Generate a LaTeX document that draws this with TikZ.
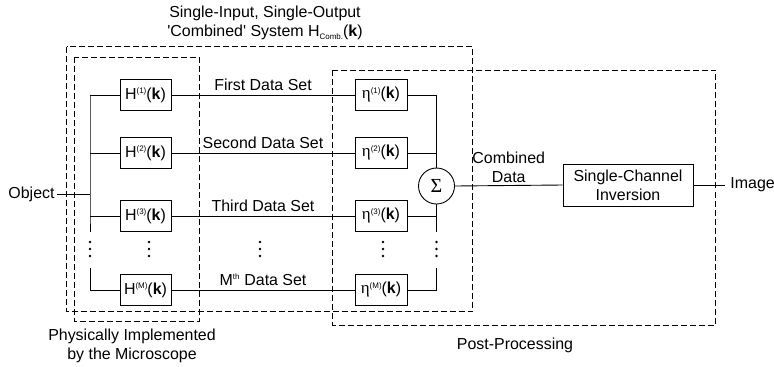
\documentclass[tikz,border=0pt]{standalone}
\usepackage{fontspec}
\setmainfont{Liberation Sans}
\newfontfamily\grk{Liberation Serif}
\usetikzlibrary{positioning}
\tikzset{blk/.style={draw,minimum width=51bp,minimum height=31bp,inner sep=0pt},
         zone/.style={draw,dash pattern=on 6bp off 3bp}}
\newcommand{\up}[1]{\raisebox{5.5bp}{\fontsize{8}{8}\selectfont(#1)}}
\newcommand{\kk}{(\textbf{k})}

\begin{document}
\begin{tikzpicture}[x=1bp,y=-1bp,line width=0.9bp,font=\fontsize{16}{19}\selectfont]
\useasboundingbox (0,0) rectangle (774,366);
% the M channels
\foreach \n/\y/\s/\t in {1/95/1/First Data Set,2/153/2/Second Data Set,3/216/3/Third Data Set,4/290/M/{M\textsuperscript{\fontsize{8}{8}\selectfont th} Data Set}}{
  \node[blk] (h\n) at (145.5,\y) {H\up{\s}\kk};
  \node[blk,minimum width=52bp] (e\n) at (381,\y) {{\grk\fontsize{17}{19}\selectfont η}\up{\s}\kk};
  \coordinate (l\n) at (90,\y);
  \coordinate (r\n) at (436.5,\y);
  \draw (l\n) -- (h\n.west) (e\n.east) -- (r\n);
  \draw (h\n.east) -- node[above=4bp,inner sep=0pt] (d\n) {\t} (e\n.west);
}
% input side
\node[anchor=east,inner sep=2bp] (obj) at (57,194) {Object};
\coordinate (o) at (90,194);
\coordinate (lb) at (90,232);
\coordinate (lt) at (90,268);
\draw (obj.east) -- (o);
\draw (l1) -- (l3) -- (lb) (lt) -- (l4);
% summing and inversion
\node[draw,circle,minimum size=36bp,inner sep=0pt] (sum) at (436.5,186) {\grk\fontsize{20}{20}\selectfont Σ};
\coordinate (rb) at (436.5,232);
\coordinate (rt) at (436.5,268);
\draw (r1) -- (sum.north) (sum.south) -- (r3) -- (rb) (rt) -- (r4);
\node[draw,minimum width=130bp,minimum height=42bp,inner sep=0pt,align=center] (inv) at (628,185) {Single-Channel\\Inversion};
\draw (sum.east) -- node[above=2bp,align=center,inner sep=0pt] (cd) {Combined\\Data} (inv.west);
\node[anchor=west,inner sep=5bp] (img) at (725,185) {Image};
\draw (inv.east) -- (img.west);
% dots
\foreach \x in {90,149,260,383,436.5} \foreach \y in {242,249,256} \fill (\x,\y) circle (1.4bp);
% dashed zones
\draw[zone] (66.5,46.5) rectangle (472.5,311.5);
\draw[zone] (74,57) rectangle (199,321.5);
\draw[zone] (332.5,70) rectangle (715,325);
\node[align=center] (top) at (265,23) {Single-Input, Single-Output\\\textquotesingle Combined\textquotesingle{} System H\raisebox{-3bp}{\fontsize{8}{8}\selectfont Comb.}\kk};
\node[align=center] (phys) at (132,346) {Physically Implemented\\by the Microscope};
\node (post) at (515,345) {Post-Processing};
\end{tikzpicture}
\end{document}
